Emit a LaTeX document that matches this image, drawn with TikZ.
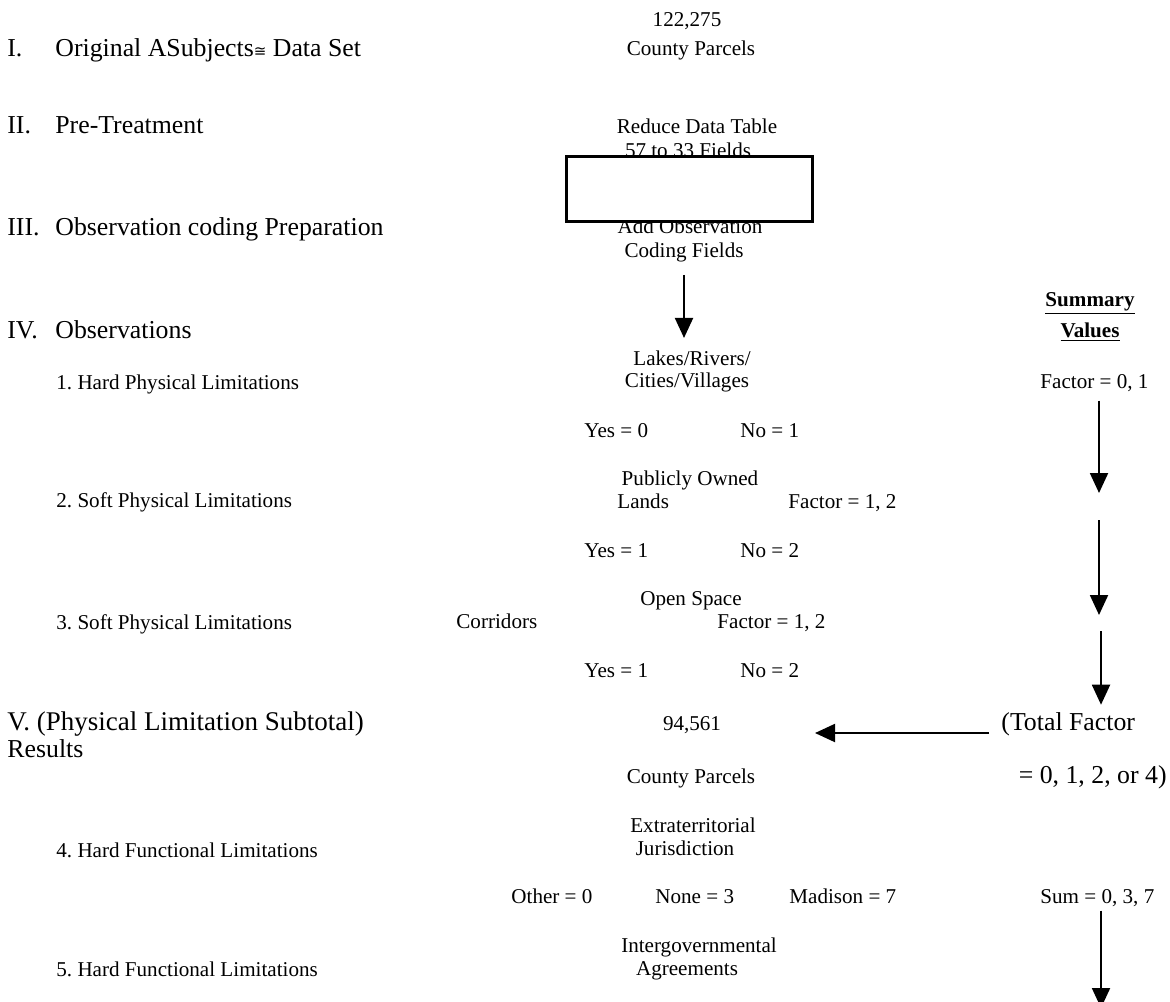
\documentclass[tikz,border=0pt]{standalone}
\usepackage{fontspec}
\setmainfont{Liberation Serif}
\newfontfamily\congfont{DejaVu Sans}
\usetikzlibrary{arrows.meta}
\newcommand{\txtsmall}{\fontsize{10.55}{12.5}\selectfont}
\newcommand{\txtbig}{\fontsize{12.9}{15}\selectfont}
\newcommand{\txtsub}{\fontsize{13.5}{16}\selectfont}
\frenchspacing

\begin{document}
\begin{tikzpicture}[x=0.5pt,y=-0.5pt,
                    every node/.style={inner sep=0pt},
                    lbl/.style={font=\txtsmall},
                    head/.style={font=\txtbig},
                    >={Triangle[length=10pt,width=9pt]}]
                    \useasboundingbox (0,0) rectangle (1170,1001);
                    % left column
                    \node[head,anchor=base west] (numI) at (7,56) {I.};
                    \node[head,anchor=base west] (secI) at (55,56) {Original ASubjects{\congfont\fontsize{7.5}{9}\selectfont ≅} Data Set};
                    \node[head,anchor=base west] (numII) at (7,133) {II.};
                    \node[head,anchor=base west] (secII) at (55,133) {Pre-Treatment};
                    \node[head,anchor=base west] (numIII) at (7,235) {III.};
                    \node[head,anchor=base west] (secIII) at (55,235) {Observation coding Preparation};
                    \node[head,anchor=base west] (numIV) at (7,338) {IV.};
                    \node[head,anchor=base west] (secIV) at (55,338) {Observations};
                    \node[lbl,anchor=base west] (limA) at (56,389) {1. Hard Physical Limitations};
                    \node[lbl,anchor=base west] (limB) at (56,507) {2. Soft Physical Limitations};
                    \node[lbl,anchor=base west] (limC) at (56,629) {3. Soft Physical Limitations};
                    \node[font=\txtsub,anchor=base west] (secV) at (7,730) {V. (Physical Limitation Subtotal)};
                    \node[head,anchor=base west] (results) at (7,757) {Results};
                    \node[lbl,anchor=base west] (limD) at (56,857) {4. Hard Functional Limitations};
                    \node[lbl,anchor=base west] (limE) at (56,976) {5. Hard Functional Limitations};
                    % middle column
                    \node[lbl,anchor=base] (parcelsA) at (687,26) {122,275};
                    \node[lbl,anchor=base] (countyA) at (691,55) {County Parcels};
                    \node[lbl,anchor=base] (reduce) at (697,133) {Reduce Data Table};
                    \node[lbl,anchor=base] (fields) at (688,157) {57 to 33 Fields};
                    \node[lbl,anchor=base] (addobs) at (690,233) {Add Observation};
                    \node[lbl,anchor=base] (coding) at (684,257) {Coding Fields};
                    \draw[line width=1.5pt,fill=white] (566,156) rectangle (812,221);
                    \node[lbl,anchor=base] (lakes) at (692,365) {Lakes/Rivers/};
                    \node[lbl,anchor=base] (cities) at (687,387) {Cities/Villages};
                    \node[lbl,anchor=base west] (yesA) at (584,437) {Yes = 0};
                    \node[lbl,anchor=base west] (noA) at (740,437) {No = 1};
                    \node[lbl,anchor=base] (public) at (690,485) {Publicly Owned};
                    \node[lbl,anchor=base west] (lands) at (617,508) {Lands};
                    \node[lbl,anchor=base west] (factorB) at (788,508) {Factor = 1, 2};
                    \node[lbl,anchor=base west] (yesB) at (584,557) {Yes = 1};
                    \node[lbl,anchor=base west] (noB) at (740,557) {No = 2};
                    \node[lbl,anchor=base] (openspace) at (691,605) {Open Space};
                    \node[lbl,anchor=base west] (corridors) at (456,628) {Corridors};
                    \node[lbl,anchor=base west] (factorC) at (717,628) {Factor = 1, 2};
                    \node[lbl,anchor=base west] (yesC) at (584,677) {Yes = 1};
                    \node[lbl,anchor=base west] (noC) at (740,677) {No = 2};
                    \node[lbl,anchor=base] (parcelsB) at (692,730) {94,561};
                    \node[lbl,anchor=base] (countyB) at (691,783) {County Parcels};
                    \node[lbl,anchor=base] (extra) at (693,832) {Extraterritorial};
                    \node[lbl,anchor=base] (juris) at (685,855) {Jurisdiction};
                    \node[lbl,anchor=base west] (other) at (511,903) {Other = 0};
                    \node[lbl,anchor=base west] (none) at (655,903) {None = 3};
                    \node[lbl,anchor=base west] (madison) at (789,903) {Madison = 7};
                    \node[lbl,anchor=base] (intergov) at (699,952) {Intergovernmental};
                    \node[lbl,anchor=base] (agree) at (687,975) {Agreements};
                    % summary column
                    \node[lbl,anchor=base] (summary) at (1090,306) {\underline{\textbf{Summary}}};
                    \node[lbl,anchor=base] (values) at (1090,337) {\underline{\textbf{Values}}};
                    \node[lbl,anchor=base west] (factorA) at (1040,388) {Factor = 0, 1};
                    \node[head,anchor=base west] (totfac) at (1001,730) {(Total Factor};
                    \node[head,anchor=base east] (totval) at (1167,783) {= 0, 1, 2, or 4)};
                    \node[lbl,anchor=base west] (sumv) at (1040,903) {Sum = 0, 3, 7};
                    \coordinate (rA) at (1099,493);
                    \coordinate (rB) at (1099,520);
                    \coordinate (rC) at (1099,615);
                    \coordinate (rD) at (1101,631);
                    \coordinate (rE) at (1101,1008);
                    \coordinate (lend) at (815,733);
                    \draw[->,line width=1pt,shorten <=6.5pt,shorten >=6pt] (coding.south) -- (coding.south |- lakes.north);
                    \draw[->,line width=1pt,shorten <=4.5pt] (factorA.south -| rA) -- (rA);
                    \draw[->,line width=1pt] (rB) -- (rC);
                    \draw[->,line width=1pt,shorten >=3.5pt] (rD) -- (totfac.north -| rD);
                    \draw[->,line width=1pt,shorten <=6pt] (totfac.base west) ++(0,3) -- (lend);
                    \draw[->,line width=1pt,shorten <=2pt] (sumv.south -| rE) -- (rE);
                \end{tikzpicture}
\end{document}
